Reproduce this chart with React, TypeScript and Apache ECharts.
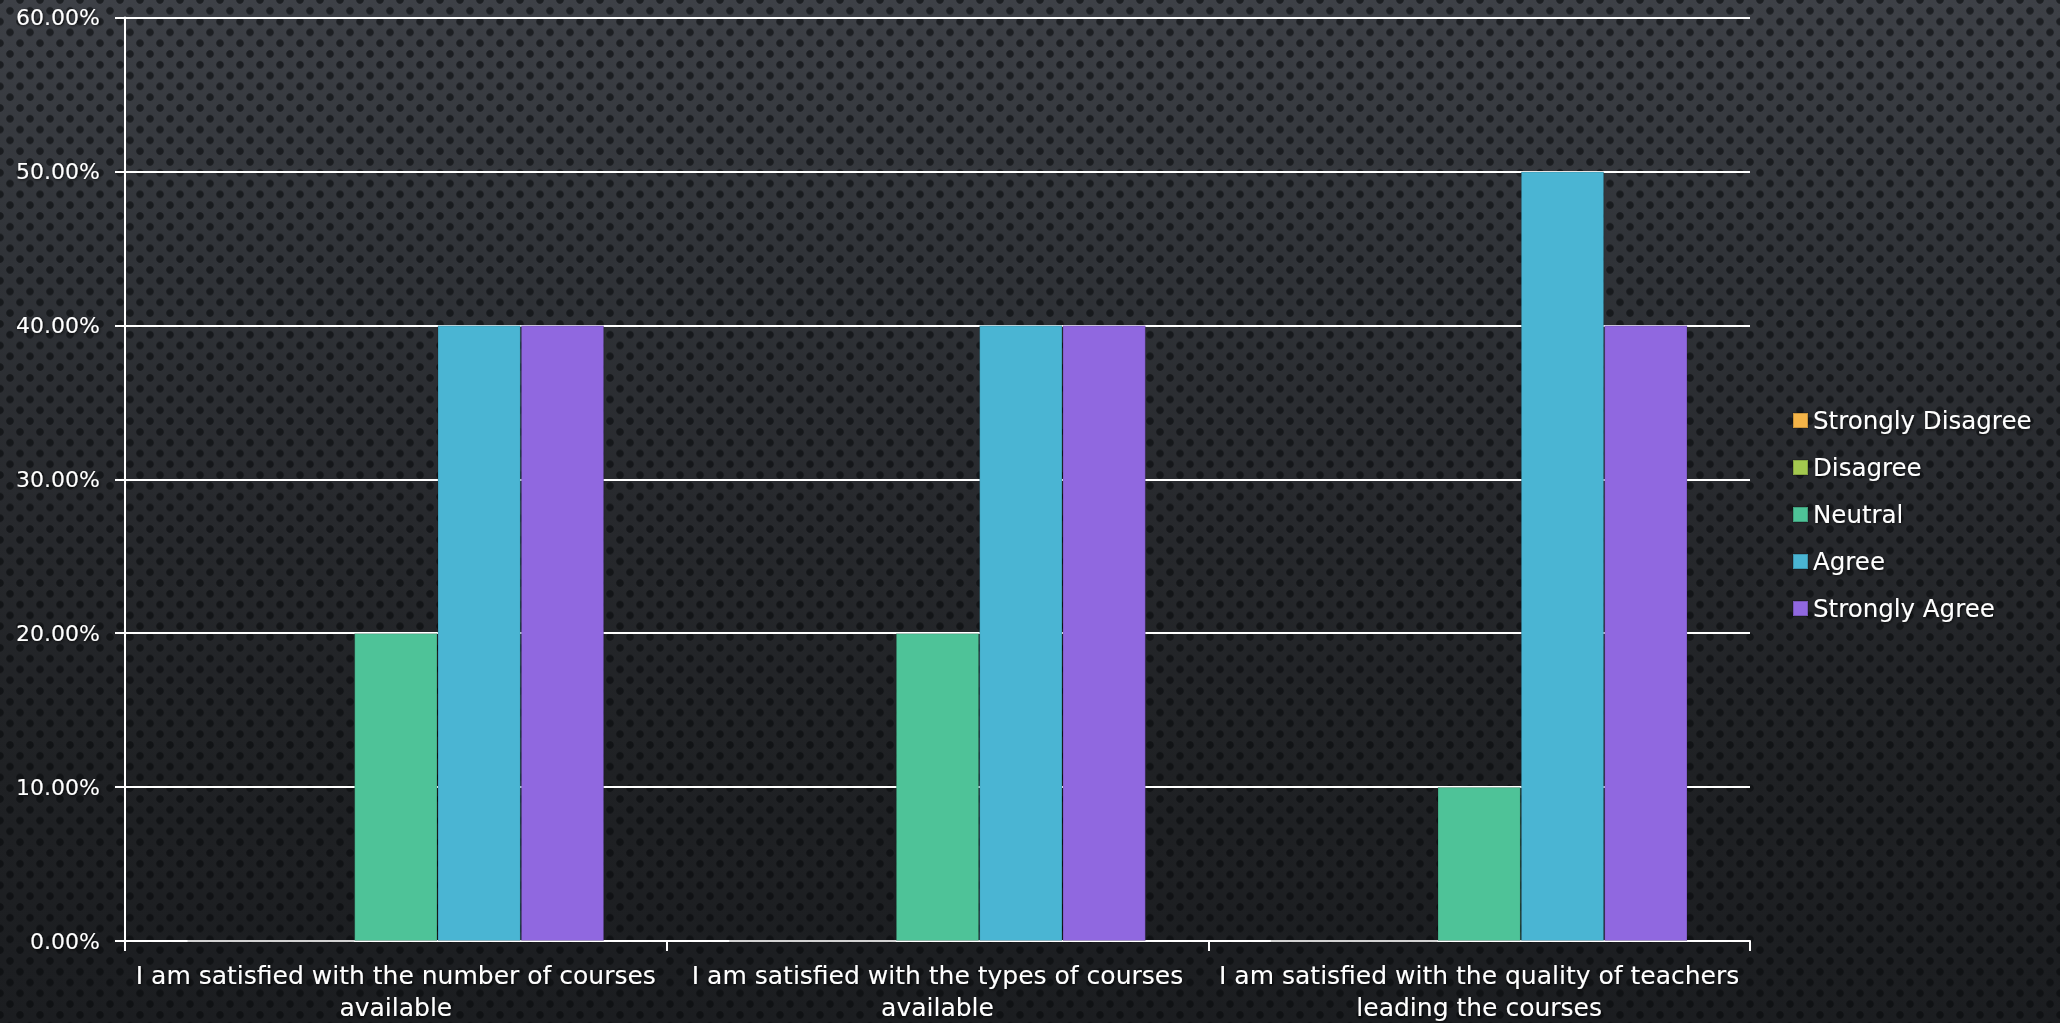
import React, { useEffect, useRef } from "react";
import * as echarts from "echarts";

const categories = [
  "I am satisfied with the number of courses\navailable",
  "I am satisfied with the types of courses\navailable",
  "I am satisfied with the quality of teachers\nleading the courses",
];
const seriesNames = ["Strongly Disagree", "Disagree", "Neutral", "Agree", "Strongly Agree"];
const stronglyDisagree = [0, 0, 0];
const disagree = [0, 0, 0];
const neutral = [20, 20, 10];
const agree = [40, 40, 50];
const stronglyAgree = [40, 40, 40];
const seriesColors = ["#f4b448", "#a3c84f", "#4ec398", "#4ab5d3", "#9068e0"];
const yTicks = { min: 0, max: 60, interval: 10 };

const FONT = "'DejaVu Sans', sans-serif";
const shadow = {
  textShadowColor: "rgba(0,0,0,0.75)",
  textShadowBlur: 3,
  textShadowOffsetX: 1,
  textShadowOffsetY: 1,
};

export default function App() {
  const ref = useRef<HTMLDivElement>(null);
  useEffect(() => {
    document.body.style.margin = "0";
    if (!ref.current) return;
    const chart = echarts.init(ref.current, null, { renderer: "svg" });
    const values = [stronglyDisagree, disagree, neutral, agree, stronglyAgree];
    chart.setOption({
      animation: false,
      backgroundColor: "transparent",
      grid: { left: 125, right: 310, top: 17.5, bottom: 82, outerBoundsMode: "none", containLabel: false },
      legend: {
        orient: "vertical",
        left: 1787,
        top: 403,
        itemWidth: 15,
        itemHeight: 15,
        itemGap: 22,
        icon: "rect",
        data: seriesNames,
        textStyle: { color: "#ffffff", fontSize: 24.5, fontFamily: FONT, lineHeight: 24, ...shadow },
      },
      xAxis: {
        type: "category",
        data: categories,
        axisLine: { lineStyle: { color: "#ffffff", width: 2 } },
        axisTick: { show: true, length: 10, lineStyle: { color: "#ffffff", width: 2 } },
        axisLabel: {
          color: "#ffffff",
          fontSize: 25,
          fontFamily: FONT,
          lineHeight: 32,
          margin: 18,
          interval: 0,
          ...shadow,
        },
      },
      yAxis: {
        type: "value",
        min: yTicks.min,
        max: yTicks.max,
        interval: yTicks.interval,
        axisLine: { show: true, lineStyle: { color: "#ffffff", width: 2 } },
        axisTick: { show: true, length: 10, lineStyle: { color: "#ffffff", width: 2 } },
        splitLine: { show: true, lineStyle: { color: "#ffffff", width: 2 } },
        axisLabel: {
          color: "#ffffff",
          fontSize: 22,
          fontFamily: FONT,
          margin: 25,
          formatter: (v: number) => v.toFixed(2) + "%",
          ...shadow,
        },
      },
      series: seriesNames.map((name, i) => ({
        name,
        type: "bar",
        data: values[i],
        barGap: "0%",
        barCategoryGap: "23.08%",
        itemStyle: { color: seriesColors[i], borderColor: "rgba(0,0,0,0.18)", borderWidth: 1 },
      })),
    });
    return () => chart.dispose();
  }, []);

  const bg = [
    "radial-gradient(circle, rgba(8,10,12,0.6) 3.3px, rgba(8,10,12,0) 4.2px) 0px 0px / 20px 21.6px",
    "radial-gradient(circle, rgba(8,10,12,0.6) 3.3px, rgba(8,10,12,0) 4.2px) 10px 10.8px / 20px 21.6px",
    "linear-gradient(to bottom, #3d4046 0%, #303338 25%, #27292d 50%, #1f2124 75%, #1b1d20 100%)",
  ].join(", ");

  return (
    <div
      style={{ position: "absolute", left: 0, top: 0, width: 2060, height: 1023, background: bg }}
    >
      <div ref={ref} style={{ width: 2060, height: 1023 }} />
    </div>
  );
}
